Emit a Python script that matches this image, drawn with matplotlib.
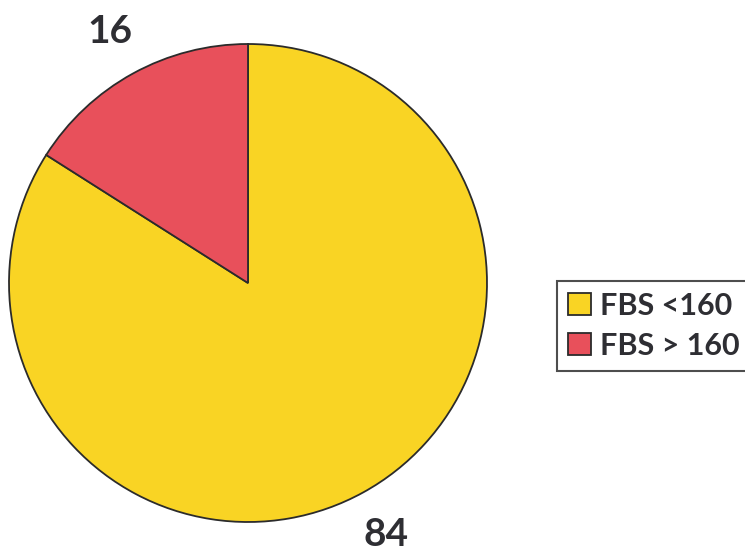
import matplotlib.pyplot as plt

# chart data
labels = ["FBS <160", "FBS > 160"]
values = [84, 16]
colors = ["#F9D424", "#E8505B"]

plt.rcParams['font.family'] = ['Lato', 'DejaVu Sans']

fig = plt.figure(figsize=(7.45, 5.51), dpi=100)
ax = fig.add_axes([9 / 745, 29 / 551, 478 / 745, 478 / 551])

wedges, texts = ax.pie(values, labels=[str(v) for v in values], colors=colors,
                       startangle=90, counterclock=False, radius=1.0,
                       labeldistance=1.2,
                       wedgeprops=dict(edgecolor="#2b2b2b", linewidth=1.3),
                       textprops=dict(fontsize=28, fontweight="bold", color="#2e2e33"))
for t in texts:
    t.set_horizontalalignment("center")
    t.set_verticalalignment("center")
ax.set_xlim(-1, 1)
ax.set_ylim(-1, 1)
ax.set_aspect("equal")

leg = fig.legend(wedges, labels, loc="upper left",
                 bbox_to_anchor=(557 / 745, 1 - 281 / 551), borderaxespad=0,
                 frameon=True, fancybox=False, handlelength=0.75, handleheight=0.75,
                 handletextpad=0.3, labelspacing=0.4, borderpad=0.35,
                 prop=dict(size=22, weight="bold"))
leg.get_frame().set_edgecolor("#222222")
leg.get_frame().set_linewidth(1.5)
for txt in leg.get_texts():
    txt.set_color("#2e2e33")

fig.savefig("out.png", dpi=100)
